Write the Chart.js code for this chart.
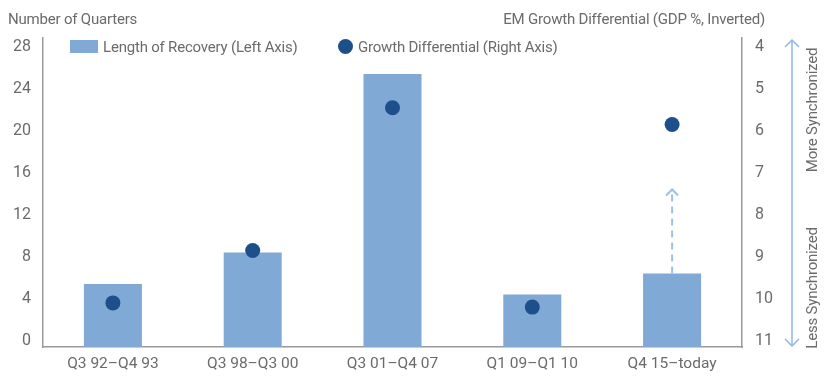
<!DOCTYPE html>
<html>
<head>
<meta charset="utf-8">
<script src="https://cdn.jsdelivr.net/npm/chart.js@4"></script>
<style>
  body { margin: 0; background: #fff; }
  #wrap { position: relative; width: 827px; height: 377px; font-family: "Roboto", sans-serif; color: #6b6b6b; }
  canvas { position: absolute; left: 0; top: 0; }
  .t { position: absolute; font-size: 15px; white-space: nowrap; line-height: 18px; letter-spacing: -0.2px; }
  .rot { position: absolute; font-size: 15px; white-space: nowrap; letter-spacing: -0.2px; transform: translate(-50%, -50%) rotate(-90deg); }
</style>
</head>
<body>
<div id="wrap">
  <canvas id="chartCanvas" width="827" height="377"></canvas>
  <div class="t" style="left:8px; top:10px;">Number of Quarters</div>
  <div class="t" style="right:62px; top:10px;">EM Growth Differential (GDP %, Inverted)</div>
  <div style="position:absolute; left:70px; top:40px; width:28px; height:13px; background:#80aad5;"></div>
  <div class="t" style="left:103px; top:38px;">Length of Recovery (Left Axis)</div>
  <div style="position:absolute; left:338px; top:39px; width:15px; height:15px; border-radius:50%; background:#1d4f8a;"></div>
  <div class="t" style="left:358px; top:38px;">Growth Differential (Right Axis)</div>
  <div class="rot" style="left:812px; top:110px;">More Synchronized</div>
  <div class="rot" style="left:812px; top:288px;">Less Synchronized</div>
</div>
<script>
var categories = ["Q3 92\u2013Q4 93", "Q3 98\u2013Q3 00", "Q3 01\u2013Q4 07", "Q1 09\u2013Q1 10", "Q4 15\u2013today"];
var recoveryLength = [6, 9, 26, 5, 7];
var growthDifferential = [9.95, 8.7, 5.3, 10.05, 5.7];
var leftTicks = [0, 4, 8, 12, 16, 20, 24, 28];
var rightTicks = [4, 5, 6, 7, 8, 9, 10, 11];
var projection = [7, 15]; // dashed arrow on last bar, in quarters

var textColor = "#6b6b6b";
var axisColor = "#9a9a9a";
var fontFamily = "Roboto, sans-serif";

function fixTicks(list) {
    return function (scale) {
        scale.ticks = list.map(function (v) { return { value: v }; });
    };
}

function arrowHead(ctx, x, y, dir, size) {
    ctx.beginPath();
    ctx.moveTo(x - size, y - dir * size);
    ctx.lineTo(x, y);
    ctx.lineTo(x + size, y - dir * size);
    ctx.stroke();
}

var extras = {
    id: "extras",
    afterDatasetsDraw: function (chart) {
        var ctx = chart.ctx;
        var xs = chart.scales.x;
        var yl = chart.scales.y;
        var last = categories.length - 1;
        var x = xs.getPixelForValue(last);
        var y0 = yl.getPixelForValue(projection[0]);
        var y1 = yl.getPixelForValue(projection[1]);
        ctx.save();
        ctx.strokeStyle = "#9cc0e6";
        ctx.lineWidth = 2;
        ctx.setLineDash([7, 5]);
        ctx.beginPath();
        ctx.moveTo(x, y0);
        ctx.lineTo(x, y1 + 2);
        ctx.stroke();
        ctx.setLineDash([]);
        arrowHead(ctx, x, y1, -1, 6);

        // right side double arrow
        var ax = 792;
        var top = chart.chartArea.top + 2;
        var bottom = chart.chartArea.bottom - 1;
        ctx.strokeStyle = "#8fb7e0";
        ctx.lineWidth = 1.5;
        ctx.beginPath();
        ctx.moveTo(ax, top);
        ctx.lineTo(ax, bottom);
        ctx.stroke();
        arrowHead(ctx, ax, top, -1, 7);
        arrowHead(ctx, ax, bottom, 1, 7);
        ctx.restore();
    }
};

var ctx = document.getElementById("chartCanvas").getContext("2d");
new Chart(ctx, {
    data: {
        labels: categories,
        datasets: [{
            type: "scatter",
            label: "Growth Differential (Right Axis)",
            data: growthDifferential.map(function (v, i) { return { x: categories[i], y: v }; }),
            yAxisID: "y2",
            backgroundColor: "#1d4f8a",
            borderWidth: 0,
            pointRadius: 7.5,
            order: 0
        }, {
            type: "bar",
            label: "Length of Recovery (Left Axis)",
            data: recoveryLength,
            yAxisID: "y",
            backgroundColor: "#80aad5",
            barPercentage: 0.415,
            categoryPercentage: 1,
            order: 1
        }]
    },
    options: {
        responsive: false,
        animation: false,
        layout: { padding: { top: 38, left: 0, right: 0, bottom: 0 } },
        plugins: { legend: { display: false }, tooltip: { enabled: false } },
        scales: {
            x: {
                type: "category",
                offset: true,
                grid: { display: false, drawTicks: false },
                border: { color: axisColor, width: 1.5 },
                ticks: { color: textColor, font: { family: fontFamily, size: 15.5 }, padding: 8 },
                afterFit: function (s) { s.height = 30; }
            },
            y: {
                position: "left",
                min: 0,
                max: 29.43,
                afterBuildTicks: fixTicks(leftTicks),
                grid: { display: false, drawTicks: false },
                border: { color: axisColor, width: 1.5 },
                ticks: { color: textColor, font: { family: fontFamily, size: 16 }, padding: 12, labelOffset: -6 },
                afterFit: function (s) { s.width = 43; }
            },
            y2: {
                position: "right",
                reverse: true,
                min: 3.64,
                max: 11,
                afterBuildTicks: fixTicks(rightTicks),
                grid: { display: false, drawTicks: false },
                border: { color: axisColor, width: 1.5 },
                ticks: { color: textColor, font: { family: fontFamily, size: 16 }, padding: 13, labelOffset: -6 },
                afterFit: function (s) { s.width = 85; }
            }
        }
    },
    plugins: [extras]
});
</script>
</body>
</html>
